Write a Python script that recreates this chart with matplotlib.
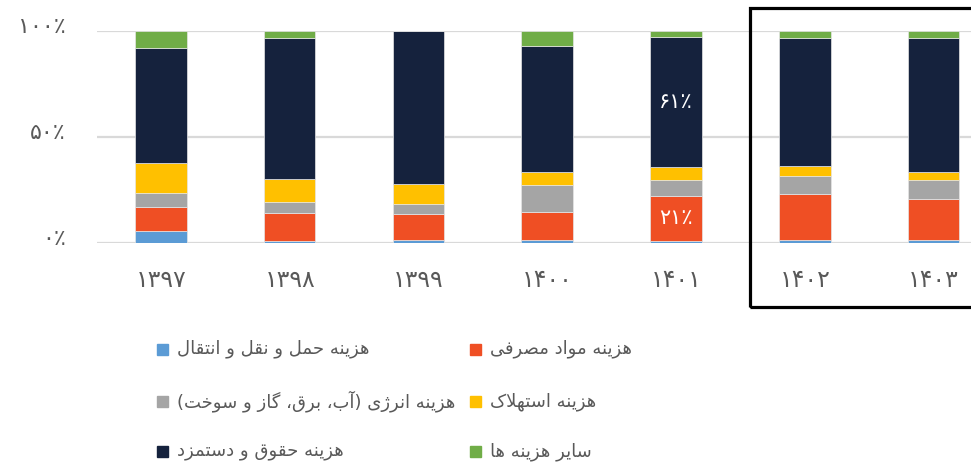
import matplotlib
matplotlib.use("Agg")
import matplotlib.pyplot as plt
from matplotlib.patches import Rectangle
import matplotlib.transforms as mtransforms
import numpy as np

plt.rcParams['font.family'] = ['DejaVu Sans']

# ---------------- data ----------------
years = ['۱۳۹۷', '۱۳۹۸', '۱۳۹۹', '۱۴۰۰', '۱۴۰۱', '۱۴۰۲', '۱۴۰۳']
transport = [5.7, 0.9, 1.4, 1.4, 0.9, 1.4, 1.4]
materials = [11.5, 13.1, 12.4, 13.3, 21.4, 21.8, 19.5]
energy = [6.3, 5.5, 4.7, 12.5, 7.5, 8.5, 9.0]
depreciation = [14.4, 10.8, 9.2, 6.4, 5.8, 4.7, 3.8]
wages = [54.0, 66.5, 72.5, 59.4, 61.6, 60.4, 63.1]
other = [8.3, 3.3, 0.0, 7.1, 2.8, 3.3, 3.4]

series_names = ['هزینه حمل و نقل و انتقال', 'هزینه مواد مصرفی',
                'هزینه انرژی (آب، برق، گاز و سوخت)', 'هزینه استهلاک',
                'هزینه حقوق و دستمزد', 'سایر هزینه ها']
colors = ['#5B9BD5', '#EF4F24', '#A5A5A5', '#FFC000', '#15223D', '#70AD47']
ytick_vals = [0, 50, 100]
ytick_labels = ['۰٪', '۵۰٪', '۱۰۰٪']
materials_labels = ['', '', '', '', '۲۱٪', '', '']
wages_labels = ['', '', '', '', '۶۱٪', '', '']

# ------------- minimal Arabic/Persian shaping -------------
FORMS = {
    'ا': ('\uFE8D', '\uFE8E', None, None),
    'آ': ('\uFE81', '\uFE82', None, None),
    'ب': ('\uFE8F', '\uFE90', '\uFE91', '\uFE92'),
    'ت': ('\uFE95', '\uFE96', '\uFE97', '\uFE98'),
    'ح': ('\uFEA1', '\uFEA2', '\uFEA3', '\uFEA4'),
    'خ': ('\uFEA5', '\uFEA6', '\uFEA7', '\uFEA8'),
    'د': ('\uFEA9', '\uFEAA', None, None),
    'ر': ('\uFEAD', '\uFEAE', None, None),
    'ز': ('\uFEAF', '\uFEB0', None, None),
    'ژ': ('\uFB8A', '\uFB8B', None, None),
    'س': ('\uFEB1', '\uFEB2', '\uFEB3', '\uFEB4'),
    'ص': ('\uFEB9', '\uFEBA', '\uFEBB', '\uFEBC'),
    'ف': ('\uFED1', '\uFED2', '\uFED3', '\uFED4'),
    'ق': ('\uFED5', '\uFED6', '\uFED7', '\uFED8'),
    'ک': ('\uFB8E', '\uFB8F', '\uFB90', '\uFB91'),
    'گ': ('\uFB92', '\uFB93', '\uFB94', '\uFB95'),
    'ل': ('\uFEDD', '\uFEDE', '\uFEDF', '\uFEE0'),
    'م': ('\uFEE1', '\uFEE2', '\uFEE3', '\uFEE4'),
    'ن': ('\uFEE5', '\uFEE6', '\uFEE7', '\uFEE8'),
    'ه': ('\uFEE9', '\uFEEA', '\uFEEB', '\uFEEC'),
    'و': ('\uFEED', '\uFEEE', None, None),
    'ی': ('\uFBFC', '\uFBFD', '\uFBFE', '\uFBFF'),
}
LAMALEF = {'ا': ('\uFEFB', '\uFEFC'), 'آ': ('\uFEF5', '\uFEF6')}


def shape(s):
    ch = list(s)
    n = len(ch)
    res = []
    i = 0
    while i < n:
        c = ch[i]
        if c not in FORMS:
            res.append(c)
            i += 1
            continue
        prev = ch[i - 1] if i > 0 else None
        cprev = prev is not None and prev in FORMS and FORMS[prev][2] is not None
        if c == 'ل' and i + 1 < n and ch[i + 1] in LAMALEF:
            lig = LAMALEF[ch[i + 1]]
            res.append(lig[1] if cprev else lig[0])
            i += 2
            continue
        nxt = ch[i + 1] if i + 1 < n else None
        cnext = FORMS[c][2] is not None and nxt is not None and nxt in FORMS
        iso, fin, ini, med = FORMS[c]
        if cprev and cnext:
            res.append(med)
        elif cprev:
            res.append(fin)
        elif cnext:
            res.append(ini)
        else:
            res.append(iso)
        i += 1
    vis = ''.join(reversed(res))
    return vis.translate(str.maketrans('()', ')('))


# ---------------- figure ----------------
W, H = 971, 469
fig = plt.figure(figsize=(W / 100, H / 100), dpi=100)
ax = fig.add_axes([96.6 / W, 226 / H, (997.9 - 96.6) / W, (438.3 - 226) / H])

data = np.array([transport, materials, energy, depreciation, wages, other], dtype=float)
pct = data / data.sum(axis=0) * 100
x = np.arange(len(years))
bottom = np.zeros(len(years))
containers = []
for vals, col in zip(pct, colors):
    c = ax.bar(x, vals, bottom=bottom, width=0.40, color=col,
               edgecolor='#E6E6E6', linewidth=0.5, zorder=3)
    containers.append(c)
    bottom += vals

ax.bar_label(containers[1], labels=materials_labels, label_type='center',
             color='white', fontsize=15)
ax.bar_label(containers[4], labels=wages_labels, label_type='center',
             color='white', fontsize=15)

ax.set_xlim(-0.5, len(years) - 0.5)
ax.set_ylim(0, 100)
ax.set_yticks(ytick_vals)
ax.set_yticklabels(ytick_labels)
ax.set_xticks(x)
ax.set_xticklabels(years)
ax.tick_params(axis='y', length=0, pad=22, labelsize=16, labelcolor='#595959')
ax.tick_params(axis='x', length=0, pad=18, labelsize=17, labelcolor='#595959')
shift = mtransforms.ScaledTranslation(0, 6 / 100, fig.dpi_scale_trans)
for lbl in ax.get_yticklabels():
    lbl.set_transform(lbl.get_transform() + shift)
for s in ax.spines.values():
    s.set_visible(False)
ax.yaxis.grid(True, color='#D9D9D9', linewidth=1.6, zorder=0)
ax.set_axisbelow(True)

# highlight frame
fig.add_artist(Rectangle((750 / W, (H - 307) / H), 300 / W, 299 / H,
                         transform=fig.transFigure, fill=False,
                         edgecolor='black', linewidth=2.3, clip_on=False))

# legend (two columns, column-wise order)
legend_order = [0, 2, 4, 1, 3, 5]
col_x = [157, 470]
row_y = [349, 401.5, 451.5]
for k, idx in enumerate(legend_order):
    cx = col_x[k // 3]
    ry = row_y[k % 3]
    fig.add_artist(Rectangle((cx / W, (H - ry - 5.5) / H), 11 / W, 11 / H,
                             transform=fig.transFigure, color=colors[idx]))
    fig.text((cx + 20) / W, (H - ry) / H, shape(series_names[idx]),
             ha='left', va='center', fontsize=13, color='#595959')

fig.savefig('out.png', dpi=100)
